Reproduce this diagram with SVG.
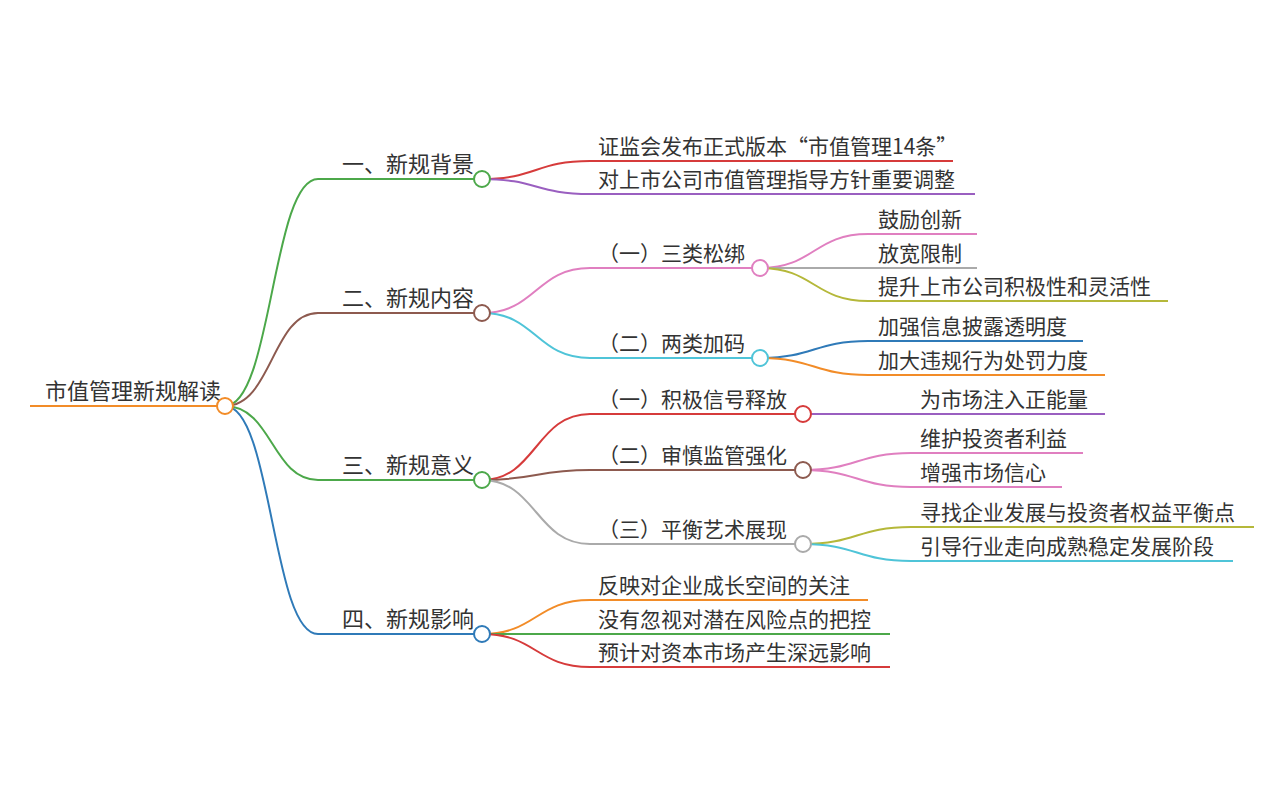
<svg xmlns="http://www.w3.org/2000/svg" width="1279" height="810" viewBox="0 0 1279 810">
<style>
text{font-family:"Noto Sans CJK SC","Liberation Sans",sans-serif;font-size:21px;fill:#333}
text.b{font-size:22px}
path,line{fill:none;stroke-width:2}
circle{fill:#fff;stroke-width:2}
</style>
<rect width="1279" height="810" fill="#fff"/>
<g id="connectors">
<path d="M225,406 C272,406 272,179 318,179" stroke="#4ca84a"/>
<path d="M225,406 C272,406 272,313 318,313" stroke="#8d5a4f"/>
<path d="M225,406 C272,406 272,480 318,480" stroke="#4ca84a"/>
<path d="M225,406 C272,406 272,634 318,634" stroke="#2f7ab8"/>
<path d="M482,179 C536,179 536,161 590,161" stroke="#d63b3b"/>
<path d="M482,179 C536,179 536,194 590,194" stroke="#9a5fc0"/>
<path d="M482,313 C536,313 536,268 590,268" stroke="#e07fc0"/>
<path d="M482,313 C536,313 536,358 590,358" stroke="#4fc4d8"/>
<path d="M760,268 C814,268 814,234 868,234" stroke="#e07fc0"/>
<path d="M760,268 L868,268" stroke="#aaa"/>
<path d="M760,268 C814,268 814,301 868,301" stroke="#b5b83a"/>
<path d="M760,358 C814,358 814,341 868,341" stroke="#2f7ab8"/>
<path d="M760,358 C814,358 814,375 868,375" stroke="#f28c28"/>
<path d="M482,480 C536,480 536,414 590,414" stroke="#d63b3b"/>
<path d="M482,480 C536,480 536,470 590,470" stroke="#8d5a4f"/>
<path d="M482,480 C536,480 536,544 590,544" stroke="#aaa"/>
<path d="M803,414 L911,414" stroke="#9a5fc0"/>
<path d="M803,470 C857,470 857,453 911,453" stroke="#e07fc0"/>
<path d="M803,470 C857,470 857,487 911,487" stroke="#e07fc0"/>
<path d="M803,544 C857,544 857,527 911,527" stroke="#b5b83a"/>
<path d="M803,544 C857,544 857,561 911,561" stroke="#4fc4d8"/>
<path d="M482,634 C536,634 536,600 590,600" stroke="#f28c28"/>
<path d="M482,634 L590,634" stroke="#4ca84a"/>
<path d="M482,634 C536,634 536,667 590,667" stroke="#d63b3b"/>
</g>
<g id="root"><line x1="30" y1="406" x2="225" y2="406" stroke="#f28c28"/><text class="b" x="45" y="399">市值管理新规解读</text><circle cx="225" cy="406" r="8" stroke="#f28c28"/></g>
<g id="b1"><line x1="318" y1="179" x2="482" y2="179" stroke="#4ca84a"/><text class="b" x="342" y="172">一、新规背景</text><circle cx="482" cy="179" r="8" stroke="#4ca84a"/></g>
<g id="b1c1"><line x1="590" y1="161" x2="953" y2="161" stroke="#d63b3b"/><text x="598" y="154">证监会发布正式版本“市值管理14条”</text></g>
<g id="b1c2"><line x1="590" y1="194" x2="975" y2="194" stroke="#9a5fc0"/><text x="598" y="187">对上市公司市值管理指导方针重要调整</text></g>
<g id="b2"><line x1="318" y1="313" x2="482" y2="313" stroke="#8d5a4f"/><text class="b" x="342" y="306">二、新规内容</text><circle cx="482" cy="313" r="8" stroke="#8d5a4f"/></g>
<g id="b2c1"><line x1="590" y1="268" x2="760" y2="268" stroke="#e07fc0"/><text x="598" y="261">（一）三类松绑</text><circle cx="760" cy="268" r="8" stroke="#e07fc0"/></g>
<g id="g1"><line x1="868" y1="234" x2="977" y2="234" stroke="#e07fc0"/><text x="878" y="227">鼓励创新</text></g>
<g id="g2"><line x1="868" y1="268" x2="977" y2="268" stroke="#aaa"/><text x="878" y="261">放宽限制</text></g>
<g id="g3"><line x1="868" y1="301" x2="1168" y2="301" stroke="#b5b83a"/><text x="878" y="294">提升上市公司积极性和灵活性</text></g>
<g id="b2c2"><line x1="590" y1="358" x2="760" y2="358" stroke="#4fc4d8"/><text x="598" y="351">（二）两类加码</text><circle cx="760" cy="358" r="8" stroke="#4fc4d8"/></g>
<g id="g4"><line x1="868" y1="341" x2="1083" y2="341" stroke="#2f7ab8"/><text x="878" y="334">加强信息披露透明度</text></g>
<g id="g5"><line x1="868" y1="375" x2="1105" y2="375" stroke="#f28c28"/><text x="878" y="368">加大违规行为处罚力度</text></g>
<g id="b3"><line x1="318" y1="480" x2="482" y2="480" stroke="#4ca84a"/><text class="b" x="342" y="473">三、新规意义</text><circle cx="482" cy="480" r="8" stroke="#4ca84a"/></g>
<g id="b3c1"><line x1="590" y1="414" x2="803" y2="414" stroke="#d63b3b"/><text x="598" y="407">（一）积极信号释放</text><circle cx="803" cy="414" r="8" stroke="#d63b3b"/></g>
<g id="g6"><line x1="911" y1="414" x2="1105" y2="414" stroke="#9a5fc0"/><text x="920" y="407">为市场注入正能量</text></g>
<g id="b3c2"><line x1="590" y1="470" x2="803" y2="470" stroke="#8d5a4f"/><text x="598" y="463">（二）审慎监管强化</text><circle cx="803" cy="470" r="8" stroke="#8d5a4f"/></g>
<g id="g7"><line x1="911" y1="453" x2="1083" y2="453" stroke="#e07fc0"/><text x="920" y="446">维护投资者利益</text></g>
<g id="g8"><line x1="911" y1="487" x2="1062" y2="487" stroke="#e07fc0"/><text x="920" y="480">增强市场信心</text></g>
<g id="b3c3"><line x1="590" y1="544" x2="803" y2="544" stroke="#aaa"/><text x="598" y="537">（三）平衡艺术展现</text><circle cx="803" cy="544" r="8" stroke="#aaa"/></g>
<g id="g9"><line x1="911" y1="527" x2="1254" y2="527" stroke="#b5b83a"/><text x="920" y="520">寻找企业发展与投资者权益平衡点</text></g>
<g id="g10"><line x1="911" y1="561" x2="1233" y2="561" stroke="#4fc4d8"/><text x="920" y="554">引导行业走向成熟稳定发展阶段</text></g>
<g id="b4"><line x1="318" y1="634" x2="482" y2="634" stroke="#2f7ab8"/><text class="b" x="342" y="627">四、新规影响</text><circle cx="482" cy="634" r="8" stroke="#2f7ab8"/></g>
<g id="b4c1"><line x1="590" y1="600" x2="868" y2="600" stroke="#f28c28"/><text x="598" y="593">反映对企业成长空间的关注</text></g>
<g id="b4c2"><line x1="590" y1="634" x2="890" y2="634" stroke="#4ca84a"/><text x="598" y="627">没有忽视对潜在风险点的把控</text></g>
<g id="b4c3"><line x1="590" y1="667" x2="890" y2="667" stroke="#d63b3b"/><text x="598" y="660">预计对资本市场产生深远影响</text></g>
</svg>
